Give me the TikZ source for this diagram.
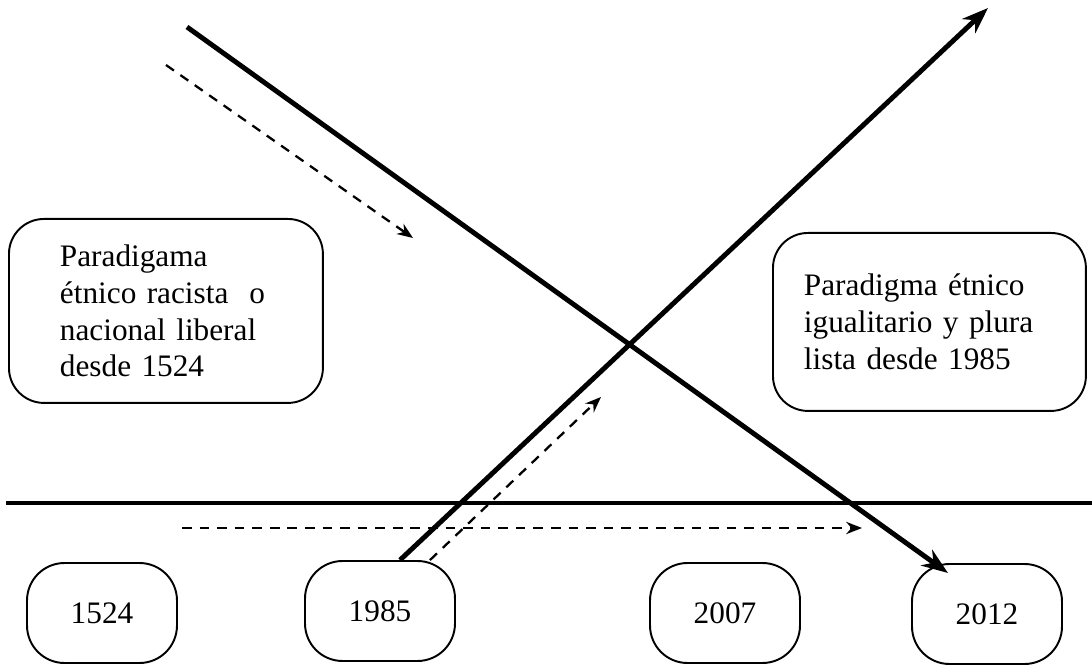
\documentclass[tikz,border=0pt]{standalone}
\usepackage{fontspec}
\setmainfont{Liberation Serif}
\usetikzlibrary{arrows.meta}

\tikzset{
	bigbox/.style={draw, line width=1.1pt, rounded corners=0.7cm, anchor=north west, align=left, inner ysep=0pt, font=\fontsize{17.8}{21}\selectfont},
	yearbox/.style={draw, line width=1.1pt, rounded corners=0.75cm, minimum width=3cm, minimum height=2cm, font=\fontsize{17.8}{21}\selectfont},
	thickarrow/.style={line width=2.8pt, -{Stealth[length=15pt,width=11pt]}},
	dasharrow/.style={line width=1.3pt, dash pattern=on 5.5pt off 4.5pt, -{Stealth[length=9pt,width=7pt]}}
}

\begin{document}
\begin{tikzpicture}[x=0.02cm, y=-0.02cm]
		
		\useasboundingbox (0,0) rectangle (1092,665);
		
		% paradigm boxes
		\node[bigbox, text width=4.24cm, inner xsep=1.02cm, minimum height=3.68cm] (racista) at (8,218)
		{Paradigama\\ étnico racista\ \ o\\ nacional liberal\\ desde 1524};
		\node[bigbox, text width=5.02cm, inner xsep=0.62cm, minimum height=3.56cm] (plural) at (772,232)
		{Paradigma étnico\\ igualitario y plura\\ lista desde 1985};
		
		% years
		\node[yearbox] (y1524) at (102,613) {1524};
		\node[yearbox] (y1985) at (380,611) {1985};
		\node[yearbox] (y2007) at (725,613) {2007};
		\node[yearbox] (y2012) at (987,614) {2012};
		
		% time axis
		\coordinate (axisL) at (6,503);
		\coordinate (axisR) at (1092,503);
		\draw[line width=2pt] (axisL) -- (axisR);
		
		% free ends
		\coordinate (oldS) at (187,27);
		\coordinate (oldE) at (948,573);
		\coordinate (newE) at (988,8);
		\coordinate (d1S) at (166,65);
		\coordinate (d1E) at (413,238);
		\coordinate (d2E) at (601,397);
		\coordinate (d3S) at (182,528);
		\coordinate (d3E) at (862,528);
		
		\draw[thickarrow] (oldS) -- (oldE);
		\draw[thickarrow] (400,0 |- y1985.north) -- (newE);
		
		\draw[dasharrow] (d1S) -- (d1E);
		\draw[dasharrow] (430,0 |- y1985.north) -- (d2E);
		\draw[dasharrow] (d3S) -- (d3E);
		
\end{tikzpicture}
\end{document}
